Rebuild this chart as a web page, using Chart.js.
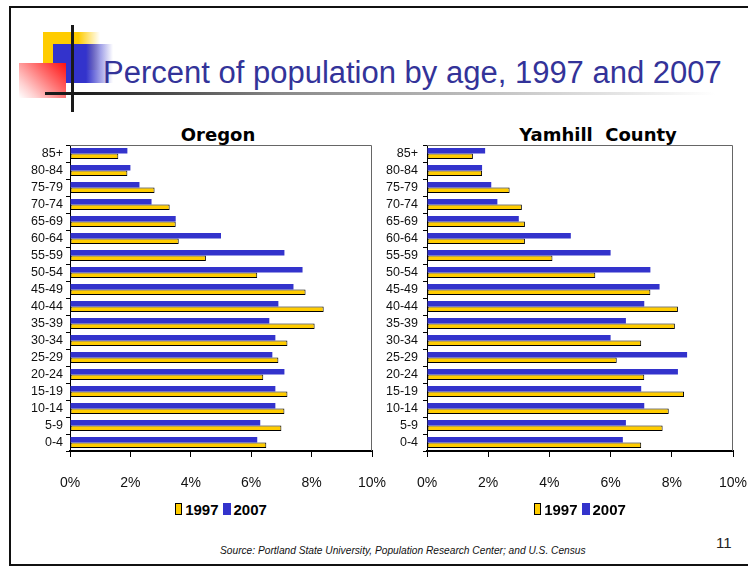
<!DOCTYPE html>
<html><head><meta charset="utf-8">
<script src="https://cdn.jsdelivr.net/npm/chart.js@4.4.1/dist/chart.umd.min.js"></script>
<style>
html,body{margin:0;padding:0;width:748px;height:566px;overflow:hidden;background:#fff;}
body{position:relative;}
.abs{position:absolute;}
#frame{left:9px;top:6px;width:800px;height:560px;border:2px solid #111;box-sizing:border-box;}
#yel{left:43px;top:32px;width:57px;height:38px;background:linear-gradient(to right,#FFCC00 0%,#FFCC00 62%,rgba(255,204,0,0) 100%);}
#blu{left:53px;top:44px;width:60px;height:39px;background:linear-gradient(to right,#3333CC 0%,#3333CC 55%,rgba(51,51,204,0) 100%);}
#red{left:19px;top:63px;width:47px;height:35px;background:linear-gradient(225deg,#ff1010 0%,#ff7070 40%,#ffd0d0 78%,#ffffff 100%);}
#vline{left:71px;top:25px;width:3px;height:87px;background:#1a1a1a;}
#hline{left:45px;top:92px;width:670px;height:3px;background:linear-gradient(to right,#1a1a1a 0%,#1a1a1a 5%,#888 35%,#fff 100%);}
#title{left:103px;top:57px;font-family:"Liberation Sans",Arial,sans-serif;font-size:31px;line-height:31px;color:#333399;white-space:nowrap;}
.ctitle{top:126px;font-family:"DejaVu Sans",sans-serif;font-weight:bold;font-size:18px;line-height:18px;color:#000;white-space:pre;transform:translateX(-50%);}
.legend{display:flex;justify-content:center;align-items:center;top:500px;height:18px;font-family:"Liberation Sans",Arial,sans-serif;font-weight:bold;font-size:15px;color:#000;}
.lbox{display:inline-block;height:12px;box-sizing:border-box;}
#src{left:220px;top:545px;font-family:"Liberation Sans",Arial,sans-serif;font-style:italic;font-size:10.2px;line-height:12px;color:#111;white-space:nowrap;}
#pg{left:716px;top:535px;font-family:"Liberation Sans",Arial,sans-serif;font-size:15px;line-height:16px;color:#222;}
canvas{position:absolute;}
</style></head><body>
<div id="frame" class="abs"></div>
<div id="yel" class="abs"></div>
<div id="blu" class="abs"></div>
<div id="red" class="abs"></div>
<div id="vline" class="abs"></div>
<div id="hline" class="abs"></div>
<div id="title" class="abs">Percent of population by age, 1997 and 2007</div>

<div class="abs ctitle" style="left:218px">Oregon</div>
<div class="abs ctitle" style="left:598px">Yamhill  County</div>

<canvas id="c1" width="378" height="351" style="left:14px;top:140px"></canvas>
<canvas id="c2" width="373" height="351" style="left:380px;top:140px"></canvas>

<div class="abs legend" style="left:70px;width:302px">
  <span class="lbox" style="width:7px;background:#FFCC00;border:1px solid #000;margin-right:3px"></span><span>1997</span>
  <span class="lbox" style="width:8px;background:#3333CC;margin-left:4px;margin-right:3px"></span><span>2007</span>
</div>
<div class="abs legend" style="left:427px;width:306px">
  <span class="lbox" style="width:7px;background:#FFCC00;border:1px solid #000;margin-right:3px"></span><span>1997</span>
  <span class="lbox" style="width:8px;background:#3333CC;margin-left:4px;margin-right:3px"></span><span>2007</span>
</div>

<div id="src" class="abs">Source: Portland State University, Population Research Center; and U.S. Census</div>
<div id="pg" class="abs">11</div>

<script>
// ---- data ----
const ageGroups = ["85+","80-84","75-79","70-74","65-69","60-64","55-59","50-54","45-49","40-44","35-39","30-34","25-29","20-24","15-19","10-14","5-9","0-4"];
const oregon1997 = [1.6,1.9,2.8,3.3,3.5,3.6,4.5,6.2,7.8,8.4,8.1,7.2,6.9,6.4,7.2,7.1,7.0,6.5];
const oregon2007 = [1.9,2.0,2.3,2.7,3.5,5.0,7.1,7.7,7.4,6.9,6.6,6.8,6.7,7.1,6.8,6.8,6.3,6.2];
const yamhill1997 = [1.5,1.8,2.7,3.1,3.2,3.2,4.1,5.5,7.3,8.2,8.1,7.0,6.2,7.1,8.4,7.9,7.7,7.0];
const yamhill2007 = [1.9,1.8,2.1,2.3,3.0,4.7,6.0,7.3,7.6,7.1,6.5,6.0,8.5,8.2,7.0,7.1,6.5,6.4];
const seriesNames = ["2007","1997"];
const xTickValues = [0,2,4,6,8,10];

const COL2007 = "#3333CC";
const COL1997 = "#FFCC00";
const TICKFONT = '"Liberation Sans",Arial,sans-serif';

const framePlugin = {
  id: 'frameLines',
  afterDraw(chart) {
    const a = chart.chartArea, ctx = chart.ctx;
    ctx.save();
    ctx.strokeStyle = '#666';
    ctx.lineWidth = 1;
    ctx.beginPath();
    ctx.moveTo(a.left, a.top + 0.5);
    ctx.lineTo(a.right - 0.5, a.top + 0.5);
    ctx.lineTo(a.right - 0.5, a.bottom);
    ctx.stroke();
    ctx.restore();
  }
};

function makeChart(id, v2007, v1997, yWidth, yPad) {
  return new Chart(document.getElementById(id), {
    type: 'bar',
    data: {
      labels: ageGroups,
      datasets: [
        { label: seriesNames[0], data: v2007, backgroundColor: COL2007, borderWidth: 0 },
        { label: seriesNames[1], data: v1997, backgroundColor: COL1997, borderColor: '#000', borderWidth: 1, borderSkipped: false }
      ]
    },
    options: {
      indexAxis: 'y',
      responsive: false,
      devicePixelRatio: 1,
      animation: false,
      events: [],
      categoryPercentage: 0.66,
      barPercentage: 1.0,
      layout: { padding: { top: 5, right: 20, left: 0, bottom: 0 } },
      plugins: { legend: { display: false }, title: { display: false }, tooltip: { enabled: false } },
      scales: {
        x: {
          min: 0, max: 10,
          afterBuildTicks: s => { s.ticks = xTickValues.map(v => ({ value: v })); },
          afterFit: s => { s.height = 40; s.paddingLeft = 0; s.paddingRight = 0; },
          grid: { drawOnChartArea: false, drawTicks: true, tickLength: 6, color: '#000', lineWidth: 1 },
          border: { display: true, color: '#000', width: 2 },
          ticks: { callback: v => v + '%', padding: 18, color: '#111', font: { family: TICKFONT, size: 14 } }
        },
        y: {
          afterFit: s => { s.width = yWidth; s.paddingTop = 0; s.paddingBottom = 0; },
          grid: { offset: true, drawOnChartArea: false, drawTicks: true, tickLength: 4, color: '#000' },
          border: { display: true, color: '#000', width: 1 },
          ticks: { autoSkip: false, padding: yPad, color: '#111', font: { family: TICKFONT, size: 12.5 } }
        }
      }
    },
    plugins: [framePlugin]
  });
}

makeChart('c1', oregon2007, oregon1997, 56, 3);
makeChart('c2', yamhill2007, yamhill1997, 47, 5);
</script>
</body></html>
